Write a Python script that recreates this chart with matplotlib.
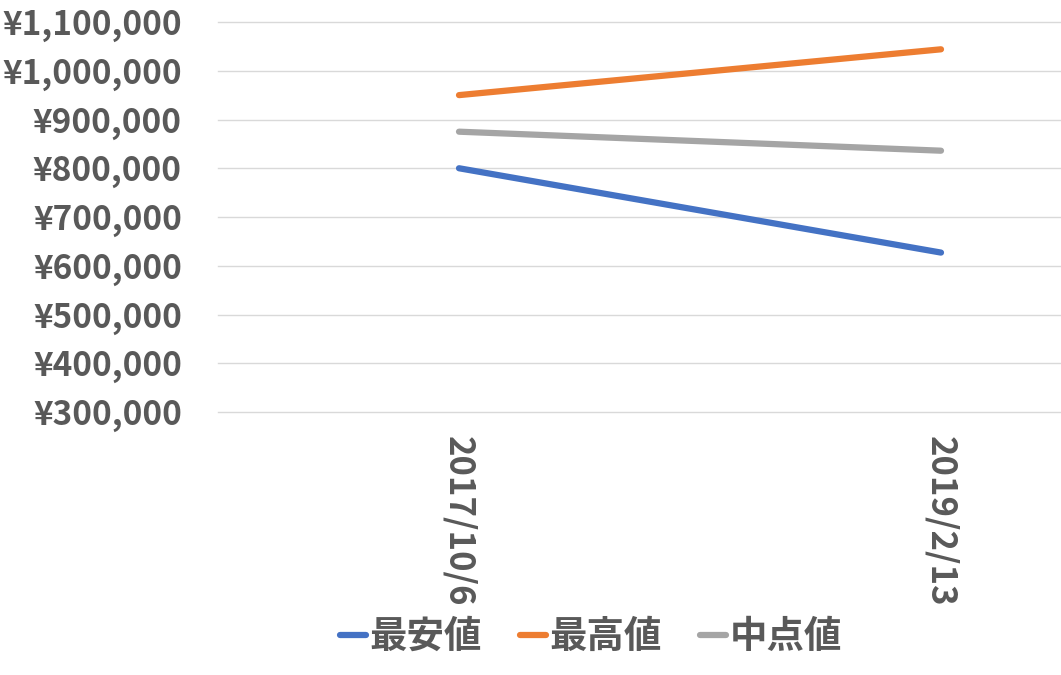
import matplotlib.pyplot as plt
from matplotlib.ticker import FuncFormatter

plt.rcParams['font.family'] = ['Noto Sans CJK JP', 'DejaVu Sans']

# data
dates = ['2017/10/6', '2019/2/13']
lowest = [800000, 627000]     # 最安値
highest = [950000, 1044000]   # 最高値
middle = [875000, 836000]     # 中点値
series_names = ['最安値', '最高値', '中点値']
colors = ['#4472C4', '#ED7D31', '#A5A5A5']
text_color = '#595959'

fig = plt.figure(figsize=(10.61, 6.75), dpi=100)
# plot area runs past the right edge, like the cropped original
ax = fig.add_axes([218 / 1061, (675 - 412) / 675, 964 / 1061, 390 / 675])

x = range(len(dates))
for vals, name, c in zip([lowest, highest, middle], series_names, colors):
    ax.plot(x, vals, color=c, lw=4.5, solid_capstyle='round', label=name)

ax.set_xlim(-0.5, 1.5)
ax.set_ylim(300000, 1100000)
ax.set_yticks(range(300000, 1100001, 100000))
ax.yaxis.set_major_formatter(FuncFormatter(lambda v, p: '¥{:,.0f}'.format(v)))
ax.grid(axis='y', color='#D9D9D9', lw=1)
for g in ax.get_ygridlines():
    g.set_clip_on(False)
ax.set_axisbelow(True)
for s in ax.spines.values():
    s.set_visible(False)
ax.tick_params(length=0)
ax.tick_params(axis='y', pad=26, labelsize=24, labelcolor=text_color)
ax.set_xticks(list(x))
ax.set_xticklabels(dates, rotation=-90, fontsize=25, color=text_color,
                   fontweight='bold', va='top')
ax.tick_params(axis='x', pad=17)
for t in ax.get_yticklabels():
    t.set_fontweight('bold')

leg = fig.legend(loc='center', bbox_to_anchor=(0.557, 0.057), ncol=3,
                 frameon=False, handlelength=0.7, handletextpad=0.1,
                 columnspacing=1.0, prop={'size': 27, 'weight': 'bold'})
for t in leg.get_texts():
    t.set_color(text_color)

fig.savefig('out.png', dpi=100)
